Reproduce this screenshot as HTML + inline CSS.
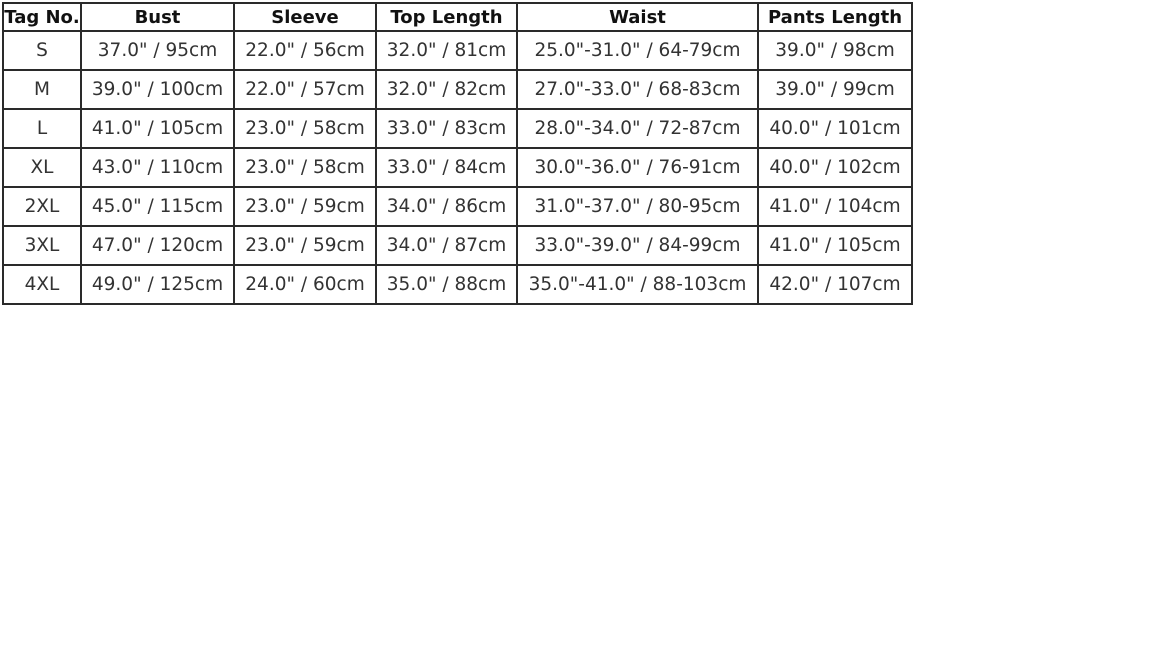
<!DOCTYPE html>
<html><head><meta charset="utf-8"><style>
html,body{margin:0;padding:0;background:#fff;width:1152px;height:648px;overflow:hidden;position:relative;font-family:"DejaVu Sans","Liberation Sans",sans-serif;}
.l{position:absolute;background:#2a2a2a;}
.c{position:absolute;display:flex;align-items:center;justify-content:center;font-size:18.5px;color:#333;white-space:nowrap;letter-spacing:0}
.h{font-weight:bold;color:#111;font-size:18px}
</style></head><body>
<div id="tbl"></div>
<script>
const headers=["Tag No.","Bust","Sleeve","Top Length","Waist","Pants Length"];
const rows=[
["S","37.0\" / 95cm","22.0\" / 56cm","32.0\" / 81cm","25.0\"-31.0\" / 64-79cm","39.0\" / 98cm"],
["M","39.0\" / 100cm","22.0\" / 57cm","32.0\" / 82cm","27.0\"-33.0\" / 68-83cm","39.0\" / 99cm"],
["L","41.0\" / 105cm","23.0\" / 58cm","33.0\" / 83cm","28.0\"-34.0\" / 72-87cm","40.0\" / 101cm"],
["XL","43.0\" / 110cm","23.0\" / 58cm","33.0\" / 84cm","30.0\"-36.0\" / 76-91cm","40.0\" / 102cm"],
["2XL","45.0\" / 115cm","23.0\" / 59cm","34.0\" / 86cm","31.0\"-37.0\" / 80-95cm","41.0\" / 104cm"],
["3XL","47.0\" / 120cm","23.0\" / 59cm","34.0\" / 87cm","33.0\"-39.0\" / 84-99cm","41.0\" / 105cm"],
["4XL","49.0\" / 125cm","24.0\" / 60cm","35.0\" / 88cm","35.0\"-41.0\" / 88-103cm","42.0\" / 107cm"]];
const xs=[3,81,234,376,517,758,912];
const ys=[3,31,70,109,148,187,226,265,304];
const t=document.getElementById('tbl');
xs.forEach(x=>{const d=document.createElement('div');d.className='l';


d.style.cssText=`left:${x-1}px;top:${ys[0]-1}px;width:2px;height:${ys[ys.length-1]-ys[0]+2}px`;t.appendChild(d);});
ys.forEach(y=>{const d=document.createElement('div');d.className='l';


d.style.cssText=`left:${xs[0]-1}px;top:${y-1}px;width:${xs[xs.length-1]-xs[0]+2}px;height:2px`;t.appendChild(d);});
const all=[headers].concat(rows);
all.forEach((r,ri)=>r.forEach((v,ci)=>{const d=document.createElement('div');
d.className='c'+(ri===0?' h':'');


d.style.cssText=`left:${xs[ci]+1}px;top:${ys[ri]+1}px;width:${xs[ci+1]-xs[ci]-2}px;height:${ys[ri+1]-ys[ri]-2}px`;
d.textContent=v;t.appendChild(d);}));
</script>
</body></html>
